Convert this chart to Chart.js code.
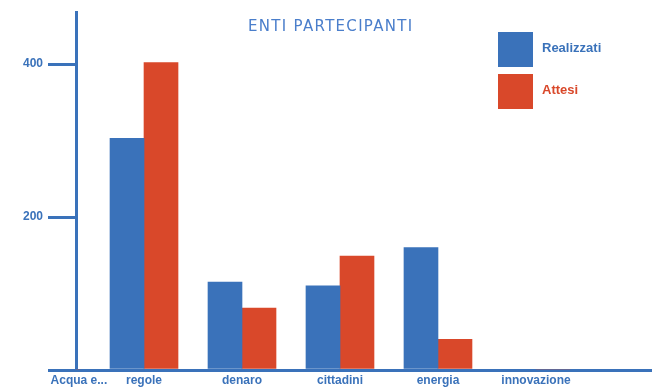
<!DOCTYPE html>
<html>
<head>
<meta charset="utf-8">
<script src="https://cdn.jsdelivr.net/npm/chart.js@4/dist/chart.umd.min.js"></script>
<style>
  body { margin: 0; background: #fff; }
  #wrap { position: relative; width: 652px; height: 392px; }
  #titolo {
    position: absolute; left: 248px; top: 17px;
    font: 15px "DejaVu Sans", sans-serif; color: #4a7ecb; letter-spacing: 1.3px;
  }
  #legenda { position: absolute; left: 498px; top: 28px; }
  .voce { display: flex; align-items: center; height: 42px; }
  .quadrato { width: 35px; height: 35px; margin-right: 9px; }
  .testo { font: bold 13px "Liberation Sans", sans-serif; margin-top: -4px; }
</style>
</head>
<body>
<div id="wrap">
  <canvas id="grafico" width="652" height="392"></canvas>
  <div id="titolo">ENTI PARTECIPANTI</div>
  <div id="legenda"></div>
</div>
<script>
const categorie = ['Acqua e...', 'regole', 'denaro', 'cittadini', 'energia', 'innovazione']
const realizzati = [0, 303, 115, 110, 160, 0]
const attesi = [0, 402, 81, 149, 40, 0]
const tickY = [0, 200, 400]

const blu = '#3a72ba'
const rosso = '#d9482a'
const fontAssi = { family: '"Liberation Sans", sans-serif', size: 12, weight: 'bold' }

const ctxGrafico = document.getElementById('grafico')

const dataGrafico = {
  datasets: [{
    label: 'Realizzati',
    data: realizzati.map((v, i) => ({ x: i, y: v })),
    backgroundColor: blu
  }, {
    label: 'Attesi',
    data: attesi.map((v, i) => ({ x: i, y: v })),
    backgroundColor: rosso
  }]
}

// asse x spostato: la prima categoria finisce sotto l'asse y
const minX = 0.306
const maxX = 6.184

const optionsGrafico = {
  responsive: false,
  animation: false,
  barThickness: 34,
  layout: { padding: { top: 12 } },
  plugins: {
    legend: { display: false },
    tooltip: { enabled: false }
  },
  scales: {
    x: {
      type: 'linear',
      offset: false,
      min: minX,
      max: maxX,
      grid: { display: false, drawTicks: false, offset: false },
      border: { color: blu, width: 3 },
      ticks: {
        color: blu,
        font: fontAssi,
        padding: 3,
        autoSkip: false,
        maxRotation: 0,
        callback: (v, i) => categorie[i]
      },
      afterBuildTicks: (scale) => {
        scale.ticks = categorie.map((c, i) => ({ value: Math.max(i, minX + 0.03) }))
      },
      afterFit: (scale) => {
        scale.height = 22
        scale.paddingLeft = 0
        scale.paddingRight = 0
      }
    },
    y: {
      min: 0,
      max: 468,
      grid: { drawOnChartArea: false, tickLength: 28, lineWidth: 3, color: blu },
      border: { color: blu, width: 3 },
      ticks: {
        color: blu,
        font: fontAssi,
        padding: 5,
        callback: (v) => v === 0 ? '' : v
      },
      afterBuildTicks: (scale) => {
        scale.ticks = tickY.map(v => ({ value: v }))
      },
      afterFit: (scale) => {
        scale.width = 76
        scale.paddingTop = 0
        scale.paddingBottom = 0
      }
    }
  }
}

const grafico = new Chart(ctxGrafico, {
  type: 'bar',
  data: dataGrafico,
  options: optionsGrafico
})

// legenda a destra, fatta a mano
const legenda = document.getElementById('legenda')
grafico.data.datasets.forEach(ds => {
  const voce = document.createElement('div')
  voce.className = 'voce'
  voce.innerHTML = '<div class="quadrato" style="background:' + ds.backgroundColor + '"></div>' +
    '<span class="testo" style="color:' + ds.backgroundColor + '">' + ds.label + '</span>'
  legenda.appendChild(voce)
})
</script>
</body>
</html>
